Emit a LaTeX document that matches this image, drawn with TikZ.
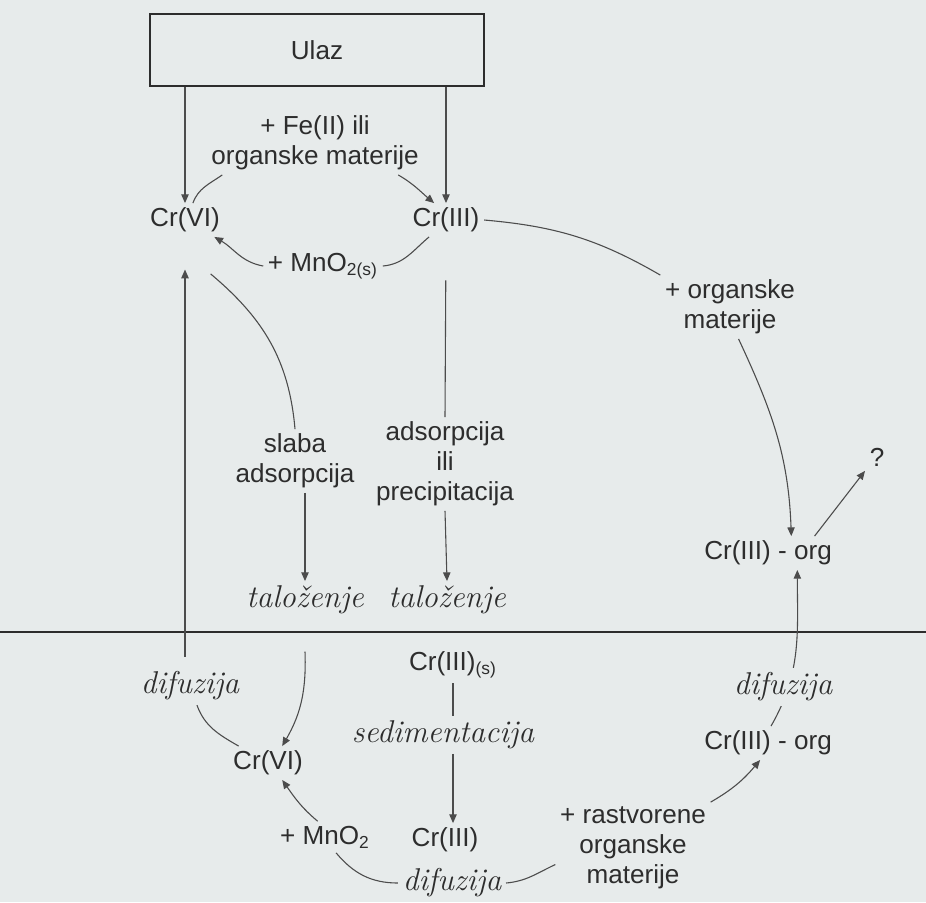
\documentclass[tikz,border=0pt]{standalone}
\usepackage{fontspec}
\setsansfont{Liberation Sans}
\usetikzlibrary{arrows.meta}
\definecolor{papir}{RGB}{231,235,235}
\definecolor{tinta}{RGB}{45,45,45}
\begin{document}
\begin{tikzpicture}[x=0.46pt,y=-0.46pt,
  txt/.style={text=tinta,font=\sffamily\fontsize{12}{13.8}\selectfont,align=center,inner sep=2pt},
  kurziv/.style={text=tinta,font=\fontsize{14.5}{16}\selectfont\itshape,inner sep=2pt},
  veza/.style={draw=tinta!85,line width=0.5pt},
  strel/.style={veza,-{Triangle[length=4pt,width=3.4pt]}}]
\useasboundingbox (0,0) rectangle (926,902);
\fill[papir] (0,0) rectangle (926,902);
\node[txt,draw=tinta,line width=1pt,minimum width=154pt,minimum height=33pt] (ulaz) at (317,50) {Ulaz};
\node[txt] (fe) at (315,143) {+ Fe(II) ili\\organske materije};
\node[txt] (crvi) at (185,220) {Cr(VI)};
\node[txt] (criii) at (446,220) {Cr(III)};
\node[txt] (mnos) at (323,266) {+ MnO\textsubscript{2(s)}};
\node[txt] (orgtop) at (730,307) {+ organske\\materije};
\node[txt] (crorg) at (768,553) {Cr(III) - org};
\node[txt] (upit) at (877,457) {?};
\node[txt] (slaba) at (295,461) {slaba\\adsorpcija};
\node[txt] (adsorp) at (445,464) {adsorpcija\\ili\\precipitacija};
\node[kurziv] (tal1) at (305,600) {taloženje};
\node[kurziv] (tal2) at (447,600) {taloženje};
\node[kurziv] (difl) at (190,686) {difuzija};
\node[txt] (crvib) at (268,763) {Cr(VI)};
\node[txt] (mno) at (325,837) {+ MnO\textsubscript{2}};
\node[txt] (criiis) at (453,665) {Cr(III)\textsubscript{(s)}};
\node[kurziv] (sedim) at (443,735) {sedimentacija};
\node[txt] (criiib) at (445,840) {Cr(III)};
\node[kurziv] (difb) at (452,883) {difuzija};
\node[txt] (rastv) at (633,848) {+ rastvorene\\organske\\materije};
\node[txt] (crorgb) at (768,743) {Cr(III) - org};
\draw[line width=1.2pt,tinta] (0,632) -- (926,632);
\draw[strel] (crvi.north |- ulaz.south) -- (crvi.north);
\draw[strel] (criii.north |- ulaz.south) -- (criii.north);
\draw[veza] (fe.199) to[out=-145,in=70] (crvi.65);
\draw[strel] (fe.-21) to[out=-30,in=140] (criii.125);
\draw[veza] (criii.225) to[out=-140,in=5] (mnos.east);
\draw[strel] (mnos.west) to[out=170,in=-30] (crvi.-30);
\draw[veza] ([xshift=4pt,yshift=-17pt]crvi.-45) to[out=-40,in=95] (slaba.north);
\draw[strel] (slaba.south -| tal1) -- (tal1.north);
\draw[veza,shorten <=20pt] (criii.south) -- (adsorp.north);
\draw[strel] (adsorp.south) -- (tal2.north);
\draw[veza] (criii.east) to[out=-5,in=150] (orgtop.north west);
\draw[strel] (orgtop.-75) to[out=-65,in=92] (crorg.36);
\draw[strel] (crorg.20) -- (upit.south west);
\draw[strel] (crorgb.80) to[out=60,in=-90] (crorg.-30);
\node[kurziv,fill=papir] (difr) at (783,687) {difuzija};
\draw[strel] (rastv.north east) to[out=30,in=-130] (crorgb.-115);
\draw[veza] (mno.-55) to[out=-50,in=180] (difb.west);
\draw[veza] (difb.east) to[out=5,in=-155] (rastv.192);
\draw[strel] ([yshift=-15pt]tal1.south) to[out=-88,in=60] (crvib.50);
\draw[veza] (difl.-70) to[out=-70,in=150] (crvib.150);
\draw[strel] (mno.115) to[out=140,in=-55] (crvib.-50);
\draw[strel,shorten <=4.6pt,shorten >=15pt] (crvi.south |- difl.north) -- (crvi.south);
\draw[veza] (criiis.south) -- (sedim.north -| criiis.south);
\draw[strel] (sedim.south -| criiis.south) -- (criiib.north -| criiis.south);
\end{tikzpicture}
\end{document}
